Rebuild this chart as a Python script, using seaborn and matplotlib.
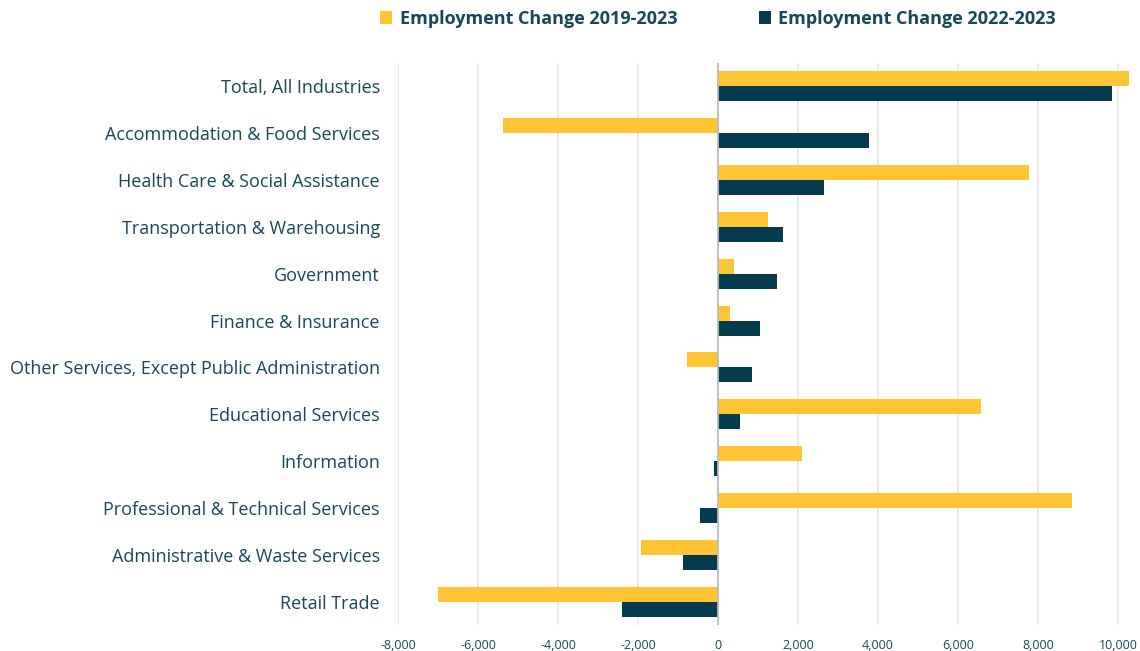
import pandas as pd
import matplotlib.pyplot as plt
import seaborn as sns
from matplotlib.patches import Patch
from matplotlib.ticker import FuncFormatter

# industries, top to bottom
industries = [
    "Total, All Industries",
    "Accommodation & Food Services",
    "Health Care & Social Assistance",
    "Transportation & Warehousing",
    "Government",
    "Finance & Insurance",
    "Other Services, Except Public Administration",
    "Educational Services",
    "Information",
    "Professional & Technical Services",
    "Administrative & Waste Services",
    "Retail Trade",
]

change_2019_2023 = [10275, -5375, 7775, 1250, 400, 300, -775, 6575, 2100, 8850, -1925, -7000]
change_2022_2023 = [9850, 3775, 2650, 1625, 1475, 1050, 850, 560, -100, -460, -875, -2400]

series_names = ["Employment Change 2019-2023", "Employment Change 2022-2023"]
colors = ["#FFC433", "#043B4E"]
text_color = "#17475A"

df = pd.DataFrame({
    "industry": industries * 2,
    "change": change_2019_2023 + change_2022_2023,
    "series": [series_names[0]] * len(industries) + [series_names[1]] * len(industries),
})

sns.set_style("white")
plt.rcParams["font.family"] = ["Open Sans", "DejaVu Sans"]

fig = plt.figure(figsize=(11.4, 6.51), dpi=100)
ax = fig.add_axes([398 / 1140, 26 / 651, (1130 - 398) / 1140, (625.5 - 63.5) / 651])

sns.barplot(
    data=df, x="change", y="industry", hue="series",
    order=industries, hue_order=series_names,
    palette=colors, width=0.64, orient="h",
    linewidth=0, saturation=1, ax=ax, legend=False,
)

ax.set_xlim(-8000, 10300)
ax.set_xticks(range(-8000, 10001, 2000))
ax.xaxis.set_major_formatter(FuncFormatter(lambda v, p: f"{int(v):,}"))
ax.grid(axis="x", color="#E8E8E8", linewidth=1.3)
ax.grid(axis="y", visible=False)
ax.set_axisbelow(True)
ax.axvline(0, color="#BDBDBD", linewidth=1.3, zorder=1.5)

for side in ["top", "right", "bottom", "left"]:
    ax.spines[side].set_visible(False)

ax.set_xlabel("")
ax.set_ylabel("")
ax.tick_params(axis="x", length=0, pad=10, labelsize=9, labelcolor=text_color)
ax.tick_params(axis="y", length=0, pad=13, labelsize=13, labelcolor=text_color)

handles = [Patch(facecolor=c, edgecolor="none") for c in colors]
fig.legend(
    handles, series_names, loc="center", bbox_to_anchor=(718 / 1140, 1 - 19 / 651),
    ncol=2, frameon=False, handlelength=0.7, handleheight=0.7, handletextpad=0.4,
    columnspacing=4.5, prop={"weight": "bold", "size": 13},
    labelcolor=text_color,
)

fig.savefig("out.png", dpi=100)
